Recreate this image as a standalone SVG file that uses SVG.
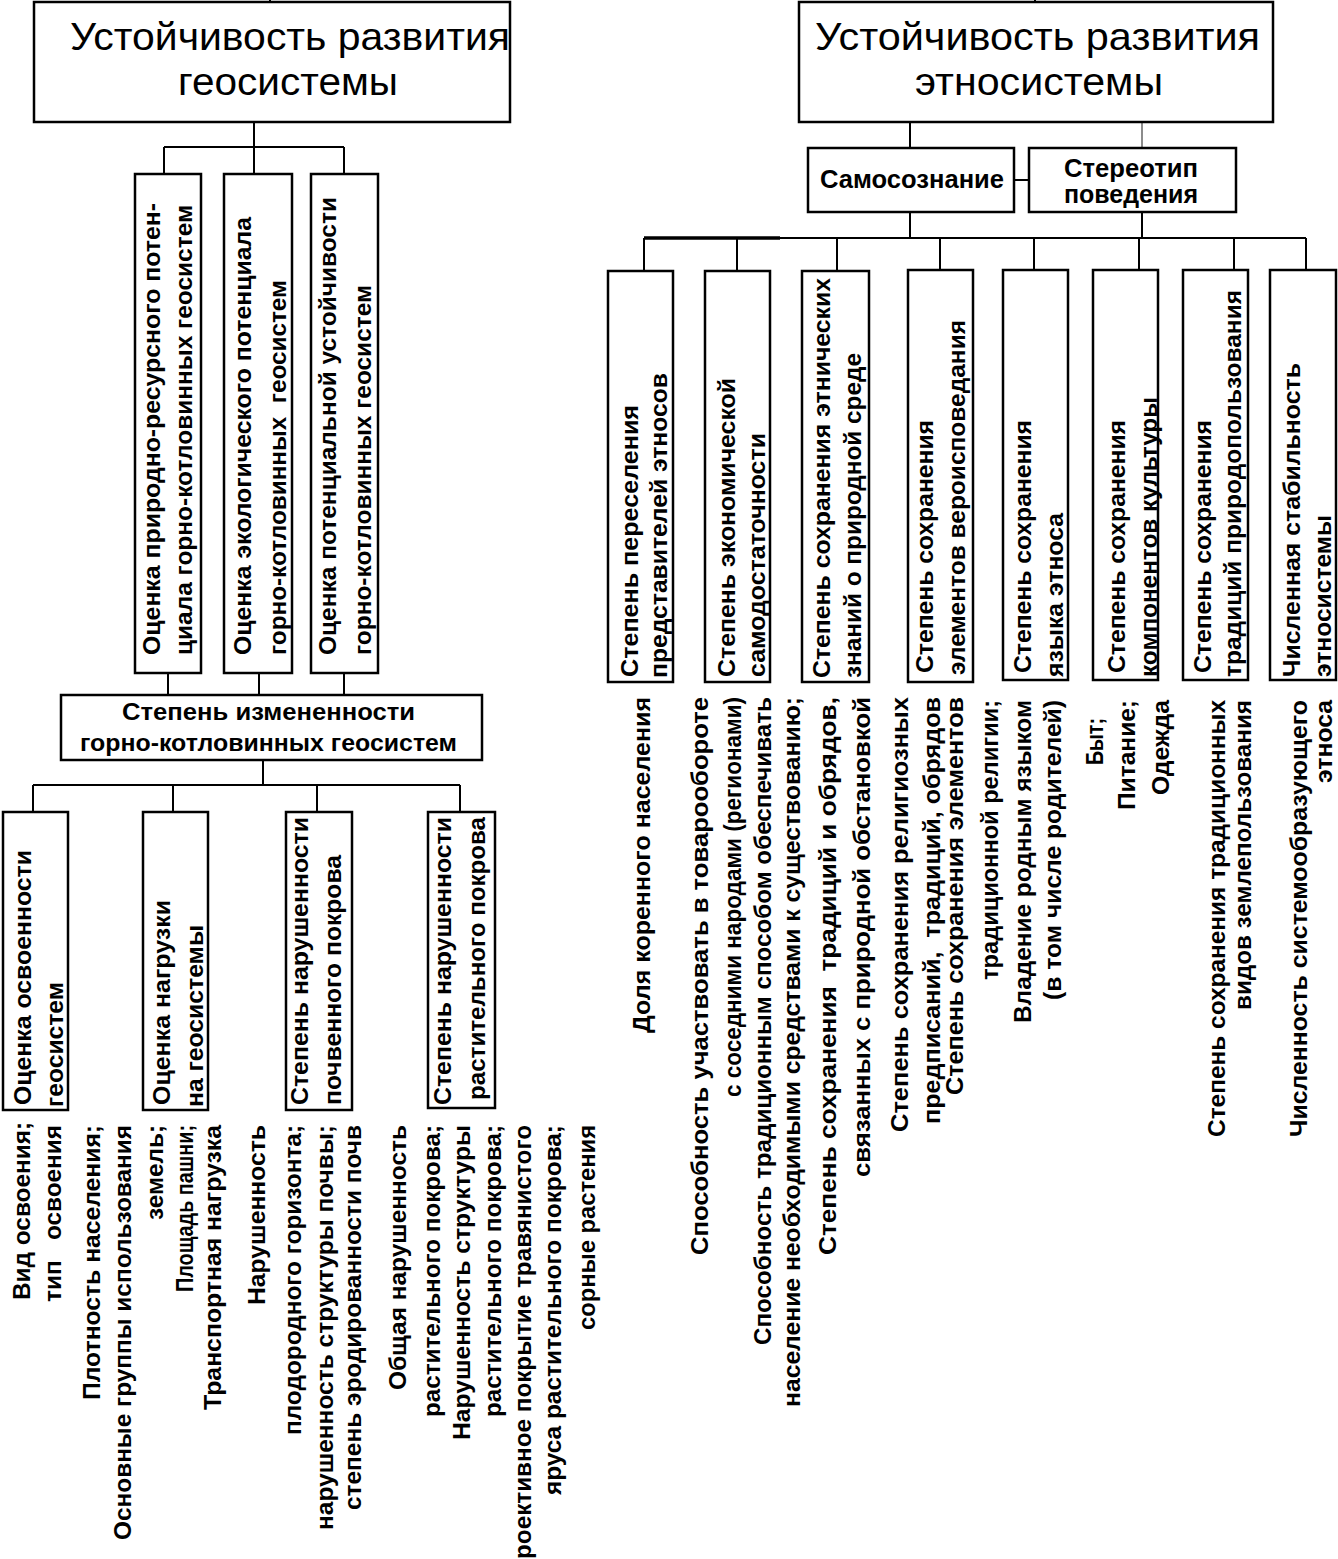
<svg xmlns="http://www.w3.org/2000/svg" width="1338" height="1559" viewBox="0 0 1338 1559">
<style>
.box{fill:#fff;stroke:#000;stroke-width:2.5}
.ln{fill:none;stroke:#000;stroke-width:2}
.lg{fill:none;stroke:#666;stroke-width:1.5}
.t{font-family:"Liberation Sans",Arial,sans-serif;font-weight:bold;font-size:24px;fill:#000}
.m{font-family:"Liberation Sans",Arial,sans-serif;font-weight:bold;font-size:23px;fill:#000}
.h{font-family:"Liberation Sans",Arial,sans-serif;font-size:39px;fill:#000}
</style>
<rect width="1338" height="1559" fill="#fff"/>
<g id="connectors">
<path class="ln" d="M270,0V3M254,122V147M164,147H344M164,147V174M254,147V174M344,147V174"/>
<path class="ln" d="M168,673V695M259,673V695M344,673V695"/>
<path class="ln" d="M263,760V785M33,785H460M33,785V812M173,785V812M317,785V812M460,785V812"/>
<path class="ln" d="M1035,0V3M910,122V148M1014,180H1029M910,212V238M1142,212V238"/>
<path class="lg" d="M1142,122V148"/>
<path class="ln" d="M644,238H1306M644,238V270M737,238V270M837,238V270M940,238V270M1034,238V270M1139,238V270M1234,238V270M1306,238V270"/>
<path class="ln" style="stroke-width:3.5" d="M644,238H780"/>
</g>
<g id="geo-top"><rect class="box" x="34" y="2" width="476" height="120"/>
<text class="h" x="70" y="50" textLength="440" lengthAdjust="spacingAndGlyphs">Устойчивость развития</text>
<text class="h" x="178" y="95" textLength="220" lengthAdjust="spacingAndGlyphs">геосистемы</text></g>
<g id="geo-l1"><rect class="box" x="135" y="174" width="66" height="499"/>
<text class="t" transform="translate(160,655) rotate(-90)" textLength="452" lengthAdjust="spacingAndGlyphs">Оценка природно-ресурсного потен-</text>
<text class="t" transform="translate(192,655) rotate(-90)" textLength="450" lengthAdjust="spacingAndGlyphs">циала горно-котловинных геосистем</text></g>
<g id="geo-l2"><rect class="box" x="224" y="174" width="68" height="499"/>
<text class="t" transform="translate(251,655) rotate(-90)" textLength="438" lengthAdjust="spacingAndGlyphs">Оценка экологического потенциала</text>
<text class="t" xml:space="preserve" transform="translate(286,655) rotate(-90)" textLength="375" lengthAdjust="spacingAndGlyphs">горно-котловинных  геосистем</text></g>
<g id="geo-l3"><rect class="box" x="311" y="174" width="67" height="499"/>
<text class="t" transform="translate(336,655) rotate(-90)" textLength="458" lengthAdjust="spacingAndGlyphs">Оценка потенциальной устойчивости</text>
<text class="t" transform="translate(371,655) rotate(-90)" textLength="370" lengthAdjust="spacingAndGlyphs">горно-котловинных геосистем</text></g>
<g id="geo-mid"><rect class="box" x="61" y="695" width="421" height="65"/>
<text class="m" x="122" y="720" textLength="293" lengthAdjust="spacingAndGlyphs">Степень измененности</text>
<text class="m" x="80" y="751" textLength="377" lengthAdjust="spacingAndGlyphs">горно-котловинных геосистем</text></g>
<g id="geo-a"><rect class="box" x="3" y="812" width="65" height="298"/>
<text class="t" transform="translate(31,1105) rotate(-90)" textLength="255" lengthAdjust="spacingAndGlyphs">Оценка освоенности</text>
<text class="t" transform="translate(63,1107) rotate(-90)" textLength="125" lengthAdjust="spacingAndGlyphs">геосистем</text></g>
<g id="geo-b"><rect class="box" x="143" y="812" width="65" height="298"/>
<text class="t" transform="translate(170,1105) rotate(-90)" textLength="205" lengthAdjust="spacingAndGlyphs">Оценка нагрузки</text>
<text class="t" transform="translate(203,1107) rotate(-90)" textLength="182" lengthAdjust="spacingAndGlyphs">на геосистемы</text></g>
<g id="geo-c"><rect class="box" x="286" y="812" width="66" height="298"/>
<text class="t" transform="translate(308,1105) rotate(-90)" textLength="288" lengthAdjust="spacingAndGlyphs">Степень нарушенности</text>
<text class="t" transform="translate(341,1105) rotate(-90)" textLength="250" lengthAdjust="spacingAndGlyphs">почвенного покрова</text></g>
<g id="geo-d"><rect class="box" x="428" y="812" width="67" height="296"/>
<text class="t" transform="translate(451,1105) rotate(-90)" textLength="288" lengthAdjust="spacingAndGlyphs">Степень нарушенности</text>
<text class="t" transform="translate(485,1100) rotate(-90)" textLength="283" lengthAdjust="spacingAndGlyphs">растительного покрова</text></g>
<g id="geo-items">
<text class="t" transform="translate(30,1300) rotate(-90)" textLength="178" lengthAdjust="spacingAndGlyphs">Вид освоения;</text>
<text class="t" xml:space="preserve" transform="translate(61,1302) rotate(-90)" textLength="177" lengthAdjust="spacingAndGlyphs">тип   освоения</text>
<text class="t" transform="translate(100,1400) rotate(-90)" textLength="275" lengthAdjust="spacingAndGlyphs">Плотность населения;</text>
<text class="t" transform="translate(131,1540) rotate(-90)" textLength="415" lengthAdjust="spacingAndGlyphs">Основные группы использования</text>
<text class="t" transform="translate(163,1220) rotate(-90)" textLength="95" lengthAdjust="spacingAndGlyphs">земель;</text>
<text class="t" transform="translate(193,1292) rotate(-90)" textLength="167" lengthAdjust="spacingAndGlyphs">Площадь пашни;</text>
<text class="t" transform="translate(221,1410) rotate(-90)" textLength="285" lengthAdjust="spacingAndGlyphs">Транспортная нагрузка</text>
<text class="t" transform="translate(265,1305) rotate(-90)" textLength="180" lengthAdjust="spacingAndGlyphs">Нарушенность</text>
<text class="t" transform="translate(301,1435) rotate(-90)" textLength="310" lengthAdjust="spacingAndGlyphs">плодородного горизонта;</text>
<text class="t" transform="translate(333,1530) rotate(-90)" textLength="405" lengthAdjust="spacingAndGlyphs">нарушенность структуры почвы;</text>
<text class="t" transform="translate(361,1510) rotate(-90)" textLength="385" lengthAdjust="spacingAndGlyphs">степень эродированности почв</text>
<text class="t" transform="translate(406,1390) rotate(-90)" textLength="265" lengthAdjust="spacingAndGlyphs">Общая нарушенность</text>
<text class="t" transform="translate(440,1417) rotate(-90)" textLength="292" lengthAdjust="spacingAndGlyphs">растительного покрова;</text>
<text class="t" transform="translate(470,1440) rotate(-90)" textLength="315" lengthAdjust="spacingAndGlyphs">Нарушенность структуры</text>
<text class="t" transform="translate(501,1417) rotate(-90)" textLength="292" lengthAdjust="spacingAndGlyphs">растительного покрова;</text>
<text class="t" transform="translate(531,1559) rotate(-90)" textLength="434" lengthAdjust="spacingAndGlyphs">роективное покрытие травянистого</text>
<text class="t" transform="translate(561,1495) rotate(-90)" textLength="370" lengthAdjust="spacingAndGlyphs">яруса растительного покрова;</text>
<text class="t" transform="translate(595,1330) rotate(-90)" textLength="205" lengthAdjust="spacingAndGlyphs">сорные растения</text>
</g>
<g id="eth-top"><rect class="box" x="799" y="2" width="474" height="120"/>
<text class="h" x="815" y="50" textLength="445" lengthAdjust="spacingAndGlyphs">Устойчивость развития</text>
<text class="h" x="915" y="95" textLength="248" lengthAdjust="spacingAndGlyphs">этносистемы</text></g>
<g id="eth-self"><rect class="box" x="808" y="148" width="206" height="64"/>
<text class="m" x="820" y="188" style="font-size:26px" textLength="184" lengthAdjust="spacingAndGlyphs">Самосознание</text></g>
<g id="eth-stereo"><rect class="box" x="1029" y="148" width="207" height="64"/>
<text class="m" x="1064" y="177" style="font-size:25px" textLength="134" lengthAdjust="spacingAndGlyphs">Стереотип</text>
<text class="m" x="1064" y="203" style="font-size:25px" textLength="134" lengthAdjust="spacingAndGlyphs">поведения</text></g>
<g id="eth-r1"><rect class="box" x="608" y="271" width="65" height="411"/>
<text class="t" transform="translate(638,677) rotate(-90)" textLength="272" lengthAdjust="spacingAndGlyphs">Степень переселения</text>
<text class="t" transform="translate(667,678) rotate(-90)" textLength="305" lengthAdjust="spacingAndGlyphs">представителей этносов</text></g>
<g id="eth-r2"><rect class="box" x="705" y="271" width="65" height="411"/>
<text class="t" transform="translate(735,677) rotate(-90)" textLength="299" lengthAdjust="spacingAndGlyphs">Степень экономической</text>
<text class="t" transform="translate(765,677) rotate(-90)" textLength="244" lengthAdjust="spacingAndGlyphs">самодостаточности</text></g>
<g id="eth-r3"><rect class="box" x="802" y="271" width="67" height="411"/>
<text class="t" transform="translate(830,678) rotate(-90)" textLength="400" lengthAdjust="spacingAndGlyphs">Степень сохранения этнических</text>
<text class="t" transform="translate(861,678) rotate(-90)" textLength="325" lengthAdjust="spacingAndGlyphs">знаний о природной среде</text></g>
<g id="eth-r4"><rect class="box" x="908" y="270" width="65" height="412"/>
<text class="t" transform="translate(933,673) rotate(-90)" textLength="253" lengthAdjust="spacingAndGlyphs">Степень сохранения</text>
<text class="t" transform="translate(965,675) rotate(-90)" textLength="355" lengthAdjust="spacingAndGlyphs">элементов вероисповедания</text></g>
<g id="eth-r5"><rect class="box" x="1003" y="270" width="65" height="410"/>
<text class="t" transform="translate(1031,673) rotate(-90)" textLength="253" lengthAdjust="spacingAndGlyphs">Степень сохранения</text>
<text class="t" transform="translate(1063,677) rotate(-90)" textLength="164" lengthAdjust="spacingAndGlyphs">языка этноса</text></g>
<g id="eth-r6"><rect class="box" x="1093" y="270" width="65" height="410"/>
<text class="t" transform="translate(1125,673) rotate(-90)" textLength="253" lengthAdjust="spacingAndGlyphs">Степень сохранения</text>
<text class="t" transform="translate(1157,677) rotate(-90)" textLength="280" lengthAdjust="spacingAndGlyphs">компонентов культуры</text></g>
<g id="eth-r7"><rect class="box" x="1183" y="270" width="65" height="410"/>
<text class="t" transform="translate(1211,673) rotate(-90)" textLength="253" lengthAdjust="spacingAndGlyphs">Степень сохранения</text>
<text class="t" transform="translate(1241,677) rotate(-90)" textLength="387" lengthAdjust="spacingAndGlyphs">традиций природопользования</text></g>
<g id="eth-r8"><rect class="box" x="1270" y="270" width="66" height="410"/>
<text class="t" transform="translate(1300,677) rotate(-90)" textLength="314" lengthAdjust="spacingAndGlyphs">Численная стабильность</text>
<text class="t" transform="translate(1331,677) rotate(-90)" textLength="162" lengthAdjust="spacingAndGlyphs">этносистемы</text></g>
<g id="eth-items">
<text class="t" transform="translate(650,1033) rotate(-90)" textLength="336" lengthAdjust="spacingAndGlyphs">Доля коренного населения</text>
<text class="t" transform="translate(708,1255) rotate(-90)" textLength="558" lengthAdjust="spacingAndGlyphs">Способность участвовать в товарообороте</text>
<text class="t" transform="translate(741,1097) rotate(-90)" textLength="400" lengthAdjust="spacingAndGlyphs">с соседними народами (регионами)</text>
<text class="t" transform="translate(771,1345) rotate(-90)" textLength="648" lengthAdjust="spacingAndGlyphs">Способность традиционным способом обеспечивать</text>
<text class="t" transform="translate(800,1407) rotate(-90)" textLength="710" lengthAdjust="spacingAndGlyphs">население необходимыми средствами к существованию;</text>
<text class="t" xml:space="preserve" transform="translate(836,1255) rotate(-90)" textLength="558" lengthAdjust="spacingAndGlyphs">Степень сохранения  традиций и обрядов,</text>
<text class="t" transform="translate(870,1177) rotate(-90)" textLength="480" lengthAdjust="spacingAndGlyphs">связанных с природной обстановкой</text>
<text class="t" transform="translate(908,1132) rotate(-90)" textLength="435" lengthAdjust="spacingAndGlyphs">Степень сохранения религиозных</text>
<text class="t" xml:space="preserve" transform="translate(940,1124) rotate(-90)" textLength="427" lengthAdjust="spacingAndGlyphs">предписаний,  традиций, обрядов</text>
<text class="t" transform="translate(963,1095) rotate(-90)" textLength="398" lengthAdjust="spacingAndGlyphs">Степень сохранения элементов</text>
<text class="t" transform="translate(998,980) rotate(-90)" textLength="280" lengthAdjust="spacingAndGlyphs">традиционной религии;</text>
<text class="t" transform="translate(1031,1023) rotate(-90)" textLength="323" lengthAdjust="spacingAndGlyphs">Владение родным языком</text>
<text class="t" transform="translate(1061,1000) rotate(-90)" textLength="300" lengthAdjust="spacingAndGlyphs">(в том числе родителей)</text>
<text class="t" transform="translate(1103,765) rotate(-90)" textLength="47" lengthAdjust="spacingAndGlyphs">Быт;</text>
<text class="t" transform="translate(1135,810) rotate(-90)" textLength="110" lengthAdjust="spacingAndGlyphs">Питание;</text>
<text class="t" transform="translate(1169,795) rotate(-90)" textLength="95" lengthAdjust="spacingAndGlyphs">Одежда</text>
<text class="t" transform="translate(1225,1137) rotate(-90)" textLength="437" lengthAdjust="spacingAndGlyphs">Степень сохранения традиционных</text>
<text class="t" transform="translate(1251,1010) rotate(-90)" textLength="310" lengthAdjust="spacingAndGlyphs">видов землепользования</text>
<text class="t" transform="translate(1307,1137) rotate(-90)" textLength="437" lengthAdjust="spacingAndGlyphs">Численность системообразующего</text>
<text class="t" transform="translate(1332,783) rotate(-90)" textLength="83" lengthAdjust="spacingAndGlyphs">этноса</text>
</g>
</svg>
